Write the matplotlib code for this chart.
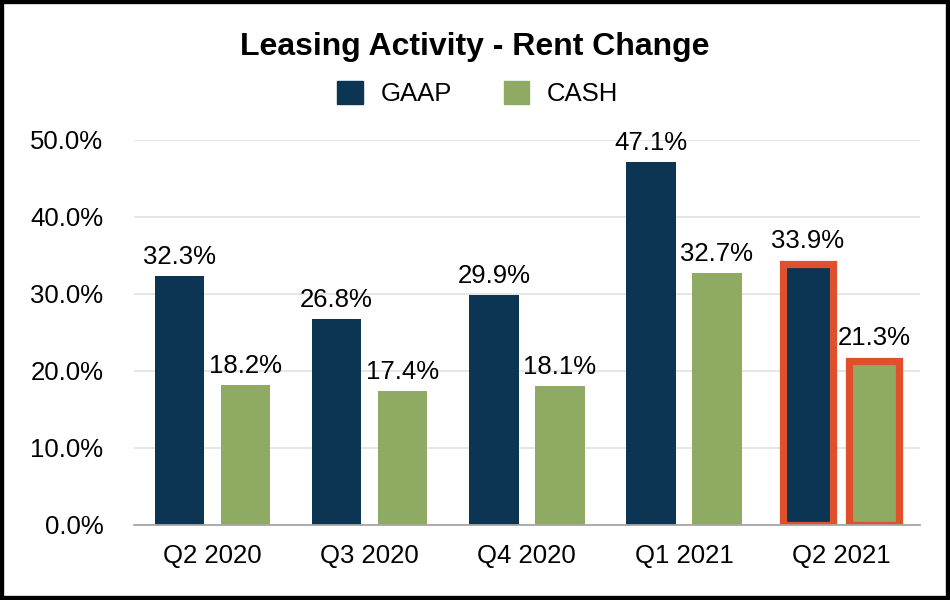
import matplotlib
matplotlib.use("Agg")
import matplotlib.pyplot as plt
import numpy as np
from matplotlib.patches import Rectangle, Patch

plt.rcParams["font.family"] = ["Liberation Sans", "DejaVu Sans"]

quarters = ["Q2 2020", "Q3 2020", "Q4 2020", "Q1 2021", "Q2 2021"]
gaap = [32.3, 26.8, 29.9, 47.1, 33.9]
cash = [18.2, 17.4, 18.1, 32.7, 21.3]
highlight = "Q2 2021"

navy = "#0B3553"
green = "#8FAA63"
red = "#E0502A"

fig = plt.figure(figsize=(9.5, 6), dpi=100)
ax = fig.add_axes([0.141, 0.125, 0.827, 0.642])

x = np.arange(len(quarters))
w = 0.315
off = 0.21
fs = 18.5

for i, q in enumerate(quarters):
    hl = q == highlight
    kw = dict(edgecolor=red, linewidth=5.2) if hl else dict(linewidth=0)
    ax.bar(x[i] - off, gaap[i], w, color=navy, zorder=3, **kw)
    ax.bar(x[i] + off, cash[i], w, color=green, zorder=3, **kw)
    extra = 3 if hl else 0
    ax.annotate(f"{gaap[i]:.1f}%", (x[i] - off, gaap[i]), xytext=(0, 5 + extra),
                textcoords="offset points", ha="center", va="bottom", fontsize=fs)
    ax.annotate(f"{cash[i]:.1f}%", (x[i] + off, cash[i]), xytext=(0, 5 + extra),
                textcoords="offset points", ha="center", va="bottom", fontsize=fs)

ax.set_xlim(-0.5, len(quarters) - 0.5)
ax.set_ylim(0, 50)
ax.set_yticks(np.arange(0, 51, 10))
ax.set_yticklabels([f"{v:.1f}%" for v in np.arange(0, 51, 10)])
ax.set_xticks(x)
ax.set_xticklabels(quarters)
ax.tick_params(axis="y", length=0, pad=22, labelsize=fs)
ax.tick_params(axis="x", length=0, pad=14, labelsize=fs)
ax.grid(axis="y", color="#E2E2E2", linewidth=1.2, zorder=0)
for s in ["top", "right", "left"]:
    ax.spines[s].set_visible(False)
ax.spines["bottom"].set_color("#A6A6A6")
ax.spines["bottom"].set_linewidth(1.3)
ax.spines["bottom"].set_zorder(4)

fig.text(0.5, 0.922, "Leasing Activity - Rent Change", ha="center", va="center",
         fontsize=23, fontweight="bold")
handles = [Patch(color=navy, label="GAAP"), Patch(color=green, label="CASH")]
fig.legend(handles=handles, loc="center", bbox_to_anchor=(0.503, 0.844), ncol=2,
           frameon=False, fontsize=fs, handlelength=1.0, handleheight=1.0,
           handletextpad=0.7, columnspacing=2.0)

fig.add_artist(Rectangle((0, 0), 1, 1, transform=fig.transFigure, fill=False,
                         edgecolor="black", linewidth=6))

fig.savefig("out.png", dpi=100)
